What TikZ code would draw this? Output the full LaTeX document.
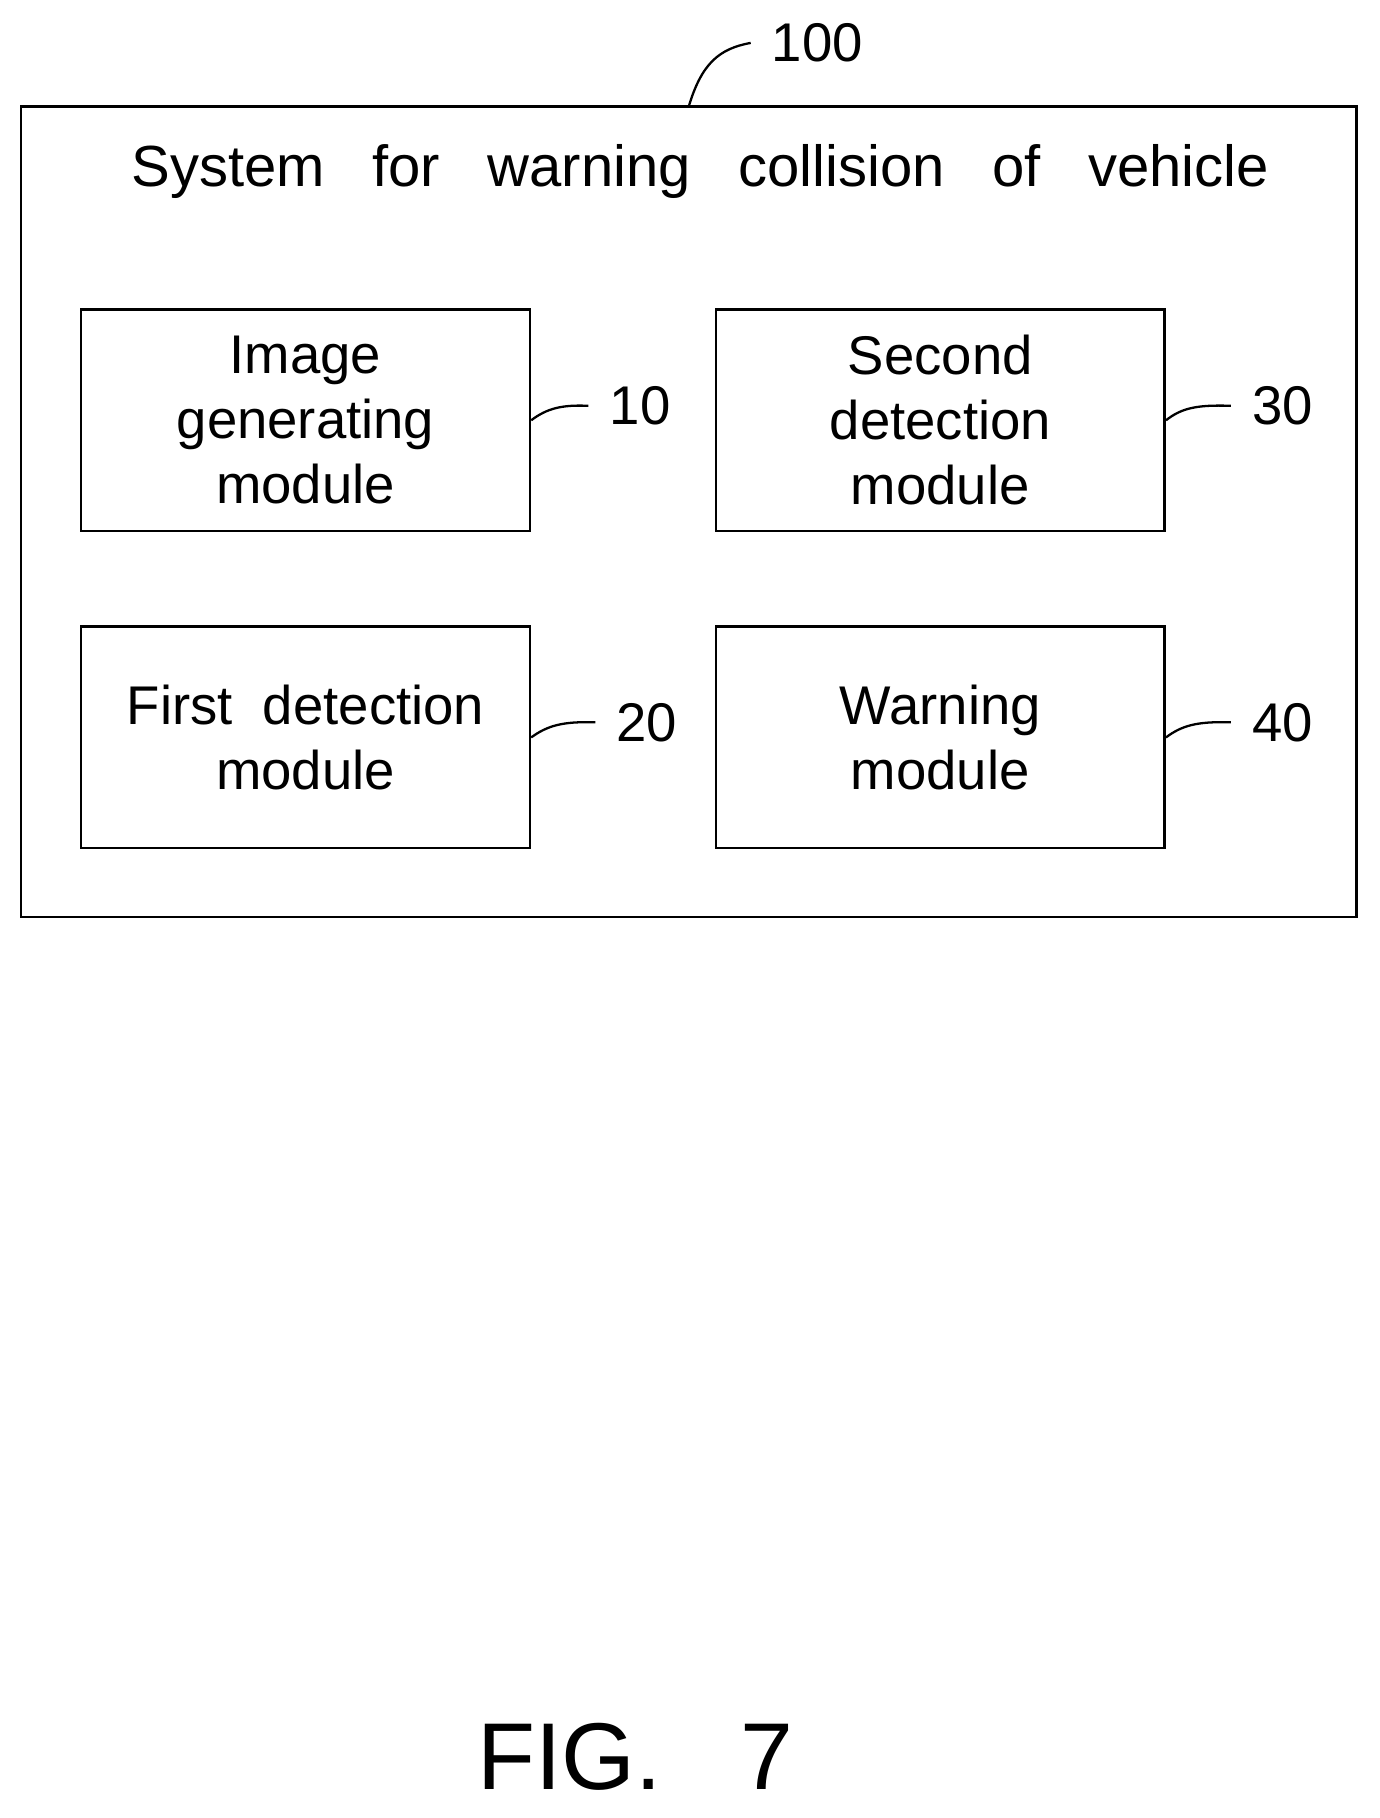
\documentclass[tikz,border=0pt]{standalone}
\usepackage{fontspec}
\setmainfont{Liberation Sans}
\usetikzlibrary{positioning}

\newcommand{\wsp}{\hspace{0.95cm}}

\begin{document}
\begin{tikzpicture}[x=0.02318cm,y=-0.02318cm,line width=1.5pt,
  every node/.style={font=\fontsize{31}{37}\selectfont},
  module/.style={draw, minimum width=387*0.02318cm, minimum height=191*0.02318cm, align=center, inner sep=0pt},
  leader/.style={line width=1.3pt}]
  \useasboundingbox (0,0) rectangle (1190,1568);
  % Outer system box
  \node[draw, minimum width=1152*0.02318cm, minimum height=699*0.02318cm, inner sep=0pt] (sys) at (594,441.5) {};
  \node[font=\fontsize{33}{39}\selectfont] (title) at (604,148) {System\wsp for\wsp warning\wsp collision\wsp of\wsp vehicle};
  % Modules
  \node[module] (img) at (263.5,362.5) {Image\\generating\\module};
  \node[module] (sec) at (811,362.5) {Second\\detection\\module};
  \node[module] (fst) at (263.5,636) {First\ \ detection\\module};
  \node[module] (warn) at (811,636) {Warning\\module};
  % Reference numerals
  \node (n100) at (705,37) {100};
  \node (n10) at (552,350) {10};
  \node (n30) at (1106,350) {30};
  \node (n20) at (558,623) {20};
  \node (n40) at (1106,623) {40};
  % Leaders
  \draw[leader] (594,92) .. controls (605,55) and (620,42) .. ([xshift=-8pt]n100.west);
  \draw[leader] (img.east) .. controls (472,352) and (485,349) .. ([xshift=-8pt]n10.west);
  \draw[leader] (sec.east) .. controls (1019,352) and (1032,349) .. ([xshift=-8pt]n30.west);
  \draw[leader] (fst.east) .. controls (472,626) and (485,622) .. ([xshift=-8pt]n20.west);
  \draw[leader] (warn.east) .. controls (1019,626) and (1032,622) .. ([xshift=-8pt]n40.west);
  % Figure caption
  \node[font=\fontsize{54}{60}\selectfont] (fig) at (548,1515) {FIG.\ \ \ 7};
\end{tikzpicture}
\end{document}
